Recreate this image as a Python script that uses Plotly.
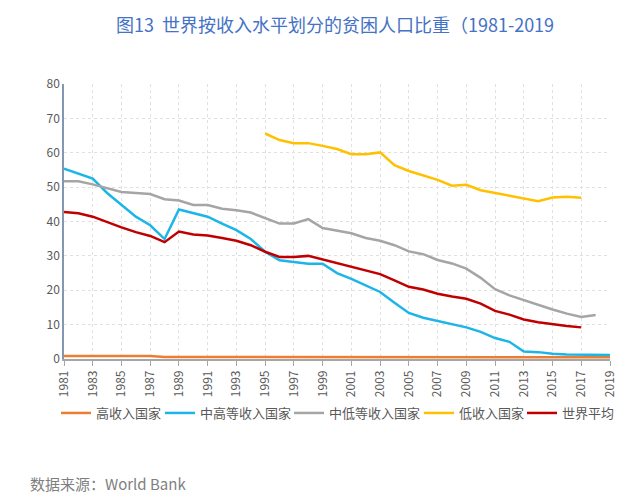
import plotly.graph_objects as go

years = list(range(1981, 2020))

high_income = [0.9]*7 + [0.6]*16 + [0.5]*16

upper_middle = [55.4, 54.0, 52.5, 48.3, 44.8, 41.4, 38.9, 34.9, 43.5, 42.5,
                41.4, 39.4, 37.5, 34.9, 31.2, 28.7, 28.1, 27.7, 27.7, 25.0,
                23.3, 21.4, 19.5, 16.4, 13.4, 12.0, 11.0, 10.1, 9.2, 7.9,
                6.1, 5.0, 2.2, 2.0, 1.5, 1.3, 1.3, 1.3, 1.2]

lower_middle = [51.7, 51.7, 50.8, 49.8, 48.6, 48.3, 48.0, 46.5, 46.1, 44.8,
                44.8, 43.7, 43.3, 42.6, 41.1, 39.4, 39.4, 40.7, 38.1, 37.4,
                36.6, 35.2, 34.4, 33.1, 31.3, 30.5, 28.8, 27.8, 26.3, 23.6,
                20.3, 18.5, 17.1, 15.6, 14.4, 13.2, 12.2, 12.8, None]

low_income = [None]*14 + [65.6, 63.7, 62.8, 62.8, 62.0, 61.1, 59.6, 59.6, 60.1,
              56.4, 54.7, 53.5, 52.1, 50.4, 50.7, 49.1, 48.3, 47.3, 46.5,
              45.9, 47.0, 47.2, 46.9, None, None]

world_avg = [42.8, 42.4, 41.4, 39.8, 38.3, 36.9, 35.8, 34.0, 37.1, 36.2,
             35.9, 35.2, 34.4, 33.1, 31.2, 29.7, 29.7, 30.0, 28.9, 27.9,
             26.8, 25.6, 24.7, 22.9, 21.0, 20.2, 19.0, 18.2, 17.5, 16.1,
             14.0, 12.9, 11.5, 10.7, 10.1, 9.6, 9.2, None, None]

series_names = ["高收入国家", "中高等收入国家", "中低等收入国家", "低收入国家", "世界平均"]
series_values = [high_income, upper_middle, lower_middle, low_income, world_avg]
series_colors = ["#ED7D31", "#1CB5E8", "#A5A5A5", "#FFC000", "#C00000"]
legend_widths = [59, 84, 85, 58, 52]

title_text = "图13  世界按收入水平划分的贫困人口比重（1981-2019"
source_text = "数据来源：World Bank"

FONT = "Noto Sans CJK SC"
W, H = 633, 494
L, T, R, B = 56, 76, 31, 143
PW, PH = W - L - R, H - T - B

fig = go.Figure()
for name, vals, color, lw in zip(series_names, series_values, series_colors, legend_widths):
    fig.add_trace(go.Scatter(x=years, y=vals, name=name, mode="lines",
                             line=dict(color=color, width=2.5),
                             connectgaps=False, legendwidth=lw))

fig.update_layout(
    width=W, height=H,
    margin=dict(l=L, r=R, t=T, b=B, autoexpand=False),
    paper_bgcolor="white", plot_bgcolor="white",
    font=dict(family=FONT, color="#595959"),
    title=dict(text=title_text, x=327/W, xref="container", xanchor="center",
               y=1 - 18/H, yref="container", yanchor="middle",
               font=dict(family=FONT, size=18, color="#4472C4")),
    legend=dict(orientation="h", x=(48 - L)/PW, xanchor="left",
                y=(351 - 405)/PH, yanchor="middle",
                font=dict(family=FONT, size=13, color="#595959"),
                traceorder="normal", itemwidth=30, bgcolor="rgba(0,0,0,0)"),
    showlegend=True,
)

fig.update_xaxes(range=[1981, 2019], tick0=1981, dtick=2, tickangle=-90,
                 showgrid=True, gridcolor="#E0E0E0", griddash="dot", gridwidth=1,
                 showline=True, linecolor="#A6A6A6", linewidth=1.5,
                 ticks="outside", ticklen=5, tickcolor="#A6A6A6",
                 tickfont=dict(family=FONT, size=12, color="#595959"),
                 zeroline=False)
fig.update_yaxes(range=[0, 80], dtick=10,
                 showgrid=True, gridcolor="#E0E0E0", griddash="dot", gridwidth=1,
                 showline=True, linecolor="#8497B0", linewidth=1.5,
                 ticks="", tickfont=dict(family=FONT, size=12, color="#595959"),
                 zeroline=False)

fig.add_annotation(text=source_text, xref="paper", yref="paper",
                   x=(20 - L)/PW, y=(351 - 475)/PH, xanchor="left", yanchor="middle",
                   showarrow=False, font=dict(family=FONT, size=15, color="#7F7F7F"))

fig.write_html("out.html")
